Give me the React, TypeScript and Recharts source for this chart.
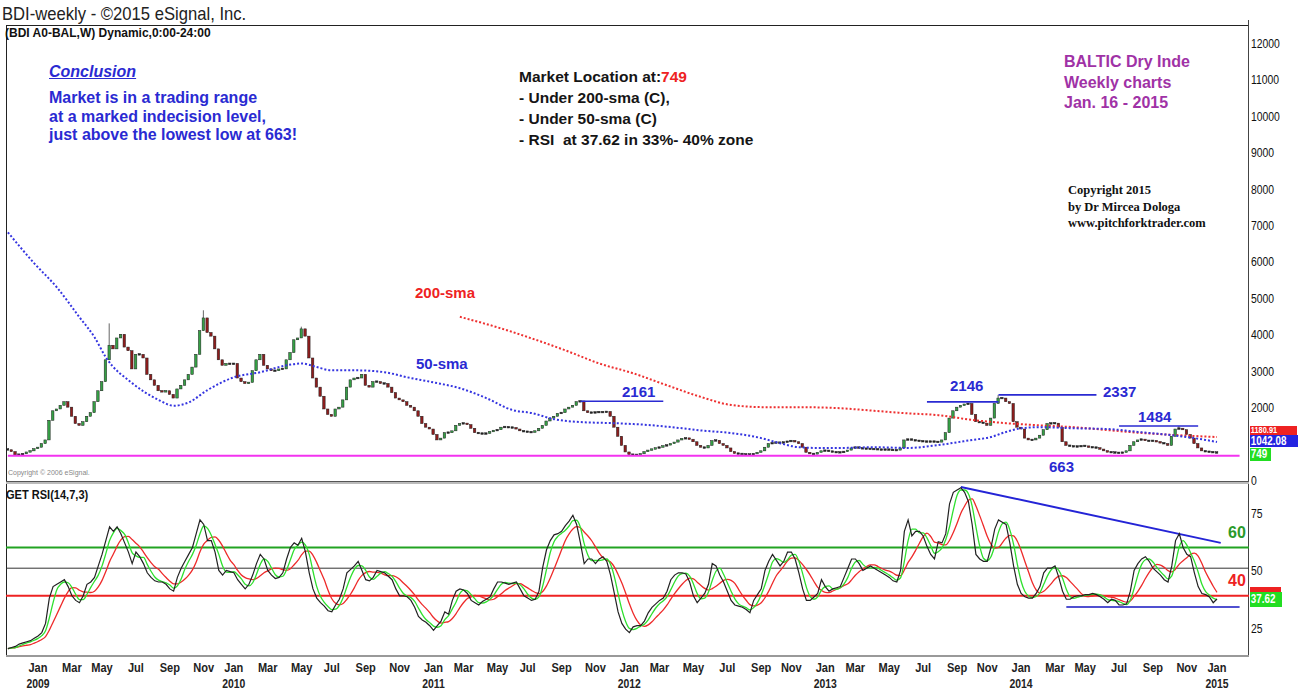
import React from "react";
import { Bar, ComposedChart, Line, ReferenceLine, XAxis, YAxis } from "recharts";

// weekly bars, first one is Fri 21 Nov 2008, last one Fri 16 Jan 2015
const START = Date.UTC(2008, 10, 21);
const SLOTS = 330; // weekly slots on the time axis incl. the blank space on the right

const firstOpen = 850;

// weekly closes (BDI)
const closes = [
  830, 780, 690, 700, 720, 770, 800, 860, 900, 1000,
  1100, 1640, 1900, 1950, 2050, 2150, 2000, 1750, 1550, 1500,
  1600, 1750, 1850, 2150, 2450, 2700, 3300, 3700, 3600, 3900,
  4000, 3650, 3550, 3050, 3450, 3450, 3350, 2900, 2750, 2600,
  2450, 2420, 2450, 2350, 2250, 2500, 2600, 2750, 2900, 3100,
  3450, 4100, 4450, 4050, 3950, 3600, 3300, 3150, 3200, 3180,
  3200, 2800, 2700, 2650, 2680, 3000, 3300, 3450, 3150, 3050,
  3000, 3000, 3050, 3050, 3300, 3500, 3850, 3900, 4150, 3950,
  3350, 2800, 2550, 2300, 1950, 1800, 1750, 1950, 2000, 2200,
  2550, 2750, 2800, 2800, 2900, 2600, 2550, 2700, 2700, 2650,
  2650, 2550, 2400, 2250, 2200, 2150, 2050, 2000, 1900, 1750,
  1550, 1450, 1400, 1250, 1100, 1150, 1300, 1300, 1350, 1500,
  1550, 1560, 1520, 1420, 1300, 1280, 1270, 1280, 1330, 1360,
  1380, 1450, 1460, 1440, 1440, 1400, 1350, 1330, 1320, 1310,
  1350, 1420, 1500, 1620, 1700, 1750, 1830, 1850, 1950, 2000,
  2050, 2150, 2170, 1900, 1850, 1850, 1860, 1870, 1860, 1880,
  1750, 1450, 1200, 950, 770, 700, 690, 690, 720, 780,
  820, 850, 880, 900, 940, 960, 1000, 1040, 1100, 1140,
  1150, 1120, 1050, 950, 900, 880, 950, 1080, 1090, 1000,
  950, 880, 780, 730, 720, 710, 700, 700, 720, 760,
  800, 900, 1000, 1020, 1030, 1020, 1040, 1060, 1080, 1050,
  1000, 900, 760, 720, 710, 760, 800, 810, 790, 770,
  760, 760, 780, 820, 880, 900, 880, 860, 860, 850,
  850, 840, 830, 840, 830, 820, 820, 880, 1100, 1120,
  1100, 1080, 1070, 1060, 1050, 1060, 1050, 1040, 1100, 1300,
  1700, 1900, 2000, 2050, 2080, 2100, 1800, 1600, 1580, 1560,
  1500, 1700, 2100, 2250, 2250, 2150, 2100, 1600, 1450, 1400,
  1150, 1100, 1100, 1150, 1230, 1380, 1550, 1560, 1560, 1450,
  1050, 950, 930, 920, 920, 940, 930, 900, 900, 880,
  850, 800, 770, 760, 750, 740, 760, 800, 950, 1050,
  1100, 1120, 1080, 1070, 1080, 1050, 1020, 1000, 950, 1200,
  1400, 1420, 1380, 1250, 1150, 1000, 880, 800, 780, 770,
  760, 749,
];

// visible wicks beyond the bodies: [week, price]
const wickHighs: [number, number][] = [[27, 4300], [52, 4660], [78, 4210], [263, 2337], [311, 1484]];
const wickLows: [number, number][] = [[2, 663]];

// moving averages as drawn on the chart: [week, value]
const sma50Pts: [number, number][] = [
  [0, 6800], [7, 5950], [13, 5290], [19, 4470], [23, 3920], [26, 3370], [33, 2660],
  [40, 2200], [44, 2040], [48, 2130], [53, 2470], [60, 2820], [67, 2960], [74, 3150],
  [78, 3200], [82, 3100], [86, 3010], [93, 3010], [100, 2960], [106, 2820], [113, 2680],
  [120, 2520], [127, 2250], [134, 1920], [139, 1840], [145, 1670], [152, 1590], [161, 1560],
  [170, 1510], [179, 1420], [184, 1360], [192, 1290], [200, 1150], [205, 1010], [210, 900],
  [215, 880], [221, 880], [230, 900], [239, 880], [247, 960], [256, 1100], [261, 1180],
  [265, 1320], [269, 1420], [274, 1450], [283, 1420], [292, 1400], [300, 1320], [309, 1230],
  [318, 1100], [321, 1042],
];
const sma200Pts: [number, number][] = [
  [120, 4480], [131, 4160], [139, 3890], [148, 3560], [157, 3200], [166, 2930], [175, 2600],
  [184, 2280], [192, 2060], [201, 2000], [210, 2000], [221, 1970], [230, 1900], [239, 1830],
  [247, 1780], [256, 1650], [265, 1560], [274, 1500], [283, 1450], [292, 1370], [300, 1300],
  [309, 1240], [321, 1180],
];

// RSI(14), weekly
const rsi = [
  16, 16.5, 17, 18, 18.5, 19, 19.5, 20.5, 21.5, 23,
  27, 38, 43, 44, 45, 46, 43, 39, 37, 36,
  39, 44, 45, 47, 52, 57, 63, 69, 67, 69,
  66, 62, 58, 53, 58, 56, 53, 49, 47, 45.5,
  45, 45, 44, 42, 41, 47, 51, 54, 57, 60,
  66, 72, 70, 63, 63, 58, 50, 48, 50, 49.5,
  49, 46, 44, 42, 44, 48, 53, 57, 55, 50,
  48, 46.5, 47, 49, 55, 60, 62, 61, 64, 58,
  49, 42, 38, 36, 34.5, 32.5, 32, 35, 37.5, 42,
  49, 50.5, 52, 54, 50, 46, 45.5, 47, 50, 49.5,
  49, 47.5, 46, 42, 39, 39, 38.6, 37, 34, 30,
  28.5, 27.5, 26, 24, 26, 28, 32, 31, 37, 41,
  42, 41.5, 40, 37, 36, 35, 36.5, 37.5, 38.5, 42,
  45, 45, 44.5, 44, 44.5, 45, 42, 39, 38, 37,
  37.5, 41, 51.5, 59, 63, 65.5, 66, 67, 69.5, 71.5,
  74, 70, 62, 53, 55, 55, 53, 55, 56, 54,
  48, 40, 32, 27, 24.5, 23, 25.5, 26, 26, 28,
  31.6, 34, 35.5, 37, 38, 41, 46, 48, 49, 49,
  48.5, 45, 39, 36, 38, 40, 44, 53, 52, 48,
  45, 41, 37, 35, 34.5, 34, 33, 31.6, 37, 39.5,
  42, 50, 54, 57, 54.5, 52, 54, 58, 58, 55,
  49, 42, 37, 37, 38.5, 40, 46, 43, 41, 42,
  42.5, 43, 47, 51, 55, 55, 53, 50, 51, 52,
  51, 50, 49, 48, 47, 45.5, 45, 50, 67, 72,
  65, 67, 67, 65, 60.5, 57, 55, 62.5, 62, 66,
  79, 84, 85, 86, 84, 80, 70, 57, 55, 54,
  54, 60, 68, 72, 71, 70, 62, 52, 44, 40,
  38.6, 38, 38, 40, 43, 49, 51, 51, 52, 47,
  41, 37.5, 37.5, 38.6, 39, 39, 39.5, 39.5, 40, 39.5,
  38.6, 37.5, 36, 37.5, 37, 35, 35, 35.5, 41, 50,
  53, 55, 56, 54, 51, 49.5, 48, 46, 45, 52,
  63, 66, 60, 57, 56, 49, 43, 40, 39.5, 38.5,
  36, 37.62,
];

// 1000 sits under the value boxes on the original, so it is not labelled
const priceTicks = [0, 2000, 3000, 4000, 5000, 6000, 7000, 8000, 9000, 10000, 11000, 12000];
const rsiTicks = [25, 50, 75];
const monthNames = ["Jan", "Feb", "Mar", "Apr", "May", "Jun", "Jul", "Aug", "Sep", "Oct", "Nov", "Dec"];

const ARIAL = "'Liberation Sans', Arial, sans-serif";
const SERIF = "'Liberation Serif', 'Times New Roman', serif";

const avgBack = (arr: number[], n: number, i: number) => {
  const from = Math.max(0, i - n + 1);
  let s = 0;
  for (let k = from; k <= i; k++) s += arr[k];
  return s / (i - from + 1);
};

const highs = new Map(wickHighs);
const lows = new Map(wickLows);

const rows: any[] = Array.from({ length: SLOTS }, (_, i) => {
  const date = new Date(START + i * 7 * 864e5);
  const row: any = { i, date };
  if (i < closes.length) {
    const open = i === 0 ? firstOpen : closes[i - 1];
    const close = closes[i];
    let hi = Math.max(open, close, highs.get(i) ?? 0);
    const lo = Math.min(open, close, lows.get(i) ?? Infinity);
    if (hi - lo < 1) hi = lo + 1;
    row.open = open;
    row.close = close;
    row.range = [lo, hi];
    row.rsi = rsi[i];
    row.rsiFast = avgBack(rsi, 3, i);
    row.rsiSlow = avgBack(rsi, 7, i);
  }
  return row;
});
sma50Pts.forEach(([i, v]) => (rows[i].sma50 = v));
sma200Pts.forEach(([i, v]) => (rows[i].sma200 = v));

const monthTicks = rows
  .filter((r, i) => i > 0 && i < closes.length && r.date.getUTCMonth() !== rows[i - 1].date.getUTCMonth() && r.date.getUTCMonth() % 2 === 0)
  .map((r) => r.i);

const Candle = (props: any) => {
  const { x, y, width, height, payload } = props;
  if (!payload || !payload.range) return null;
  const [lo, hi] = payload.range;
  const { open, close } = payload;
  const k = height / (hi - lo);
  const cx = x + width / 2;
  const top = y + (hi - Math.max(open, close)) * k;
  const bot = y + (hi - Math.min(open, close)) * k;
  const h = Math.max(bot - top, 1.6);
  const mid = (top + bot) / 2;
  const flat = Math.abs(close - open) < 25;
  const fill = flat ? "#222" : close > open ? "#35a045" : "#8e1c1c";
  return (
    <g>
      <line x1={cx} x2={cx} y1={y} y2={y + height} stroke="#666" strokeWidth={1} />
      <rect x={cx - 1.25} y={mid - h / 2} width={2.5} height={h} fill={fill} stroke="#222" strokeWidth={0.5} />
    </g>
  );
};

const PriceTick = (p: any) => (
  <text
    transform={`translate(1251 ${p.y + 5}) scale(0.8 1)`}
    fontFamily={ARIAL} fontSize={13} fill="#111"
  >
    {p.payload.value}
  </text>
);

const MonthTick = (p: any) => {
  const d: Date = rows[p.payload.value].date;
  const m = d.getUTCMonth();
  const cx = p.x + 7.5;
  return (
    <g fontFamily={ARIAL} fontSize={13} fontWeight="bold" fill="#222" textAnchor="middle">
      <text transform={`translate(${cx} 188) scale(0.85 1)`}>{monthNames[m]}</text>
      {m === 0 && <text transform={`translate(${cx} 204) scale(0.8 1)`}>{d.getUTCFullYear()}</text>}
    </g>
  );
};

const T = ({ x, y, s, sx, children }: { x: number; y: number; s: React.CSSProperties; sx?: number; children: React.ReactNode }) => (
  <div
    style={{
      position: "absolute", left: x, top: y, whiteSpace: "nowrap", lineHeight: 1,
      transform: sx ? `scaleX(${sx})` : undefined, transformOrigin: "left center", ...s,
    }}
  >
    {children}
  </div>
);

const blueBold: React.CSSProperties = { fontFamily: ARIAL, fontWeight: "bold", fontSize: 15, color: "#2a2ad2" };
const blackBold: React.CSSProperties = { fontFamily: ARIAL, fontWeight: "bold", fontSize: 15.5, color: "#151515" };
const purple: React.CSSProperties = { fontFamily: ARIAL, fontWeight: "bold", fontSize: 16, color: "#a032a6" };
const serif: React.CSSProperties = { fontFamily: SERIF, fontWeight: "bold", fontSize: 12.5, color: "#111" };

const Box = ({ x, y, w, h, bg, text, fs = 12 }: { x: number; y: number; w: number; h: number; bg: string; text?: string; fs?: number }) => (
  <div
    style={{
      position: "absolute", left: x, top: y, width: w, height: h, background: bg, color: "#fff",
      fontFamily: ARIAL, fontWeight: "bold", fontSize: fs, lineHeight: `${h}px`, overflow: "hidden",
    }}
  >
    {text && <span style={{ display: "inline-block", transform: "scaleX(0.82)", transformOrigin: "left center", paddingLeft: 1 }}>{text}</span>}
  </div>
);

export default function App() {
  return (
    <div style={{ position: "absolute", left: 0, top: 0, width: 1299, height: 690, background: "#fff", overflow: "hidden" }}>
      {/* frame */}
      <div style={{ position: "absolute", left: 6, top: 25, width: 1243, height: 1, background: "#222" }} />
      <div style={{ position: "absolute", left: 6, top: 25, width: 1, height: 632, background: "#222" }} />
      <div style={{ position: "absolute", left: 1248, top: 20, width: 1, height: 637, background: "#444" }} />
      <div style={{ position: "absolute", left: 6, top: 481, width: 1243, height: 1, background: "#555" }} />
      <div style={{ position: "absolute", left: 6, top: 482, width: 1243, height: 2, background: "#bbb" }} />
      <div style={{ position: "absolute", left: 6, top: 655, width: 1243, height: 2, background: "#999" }} />

      <div style={{ position: "absolute", left: 0, top: 25 }}>
        <ComposedChart width={1299} height={467} data={rows} margin={{ top: 0, right: 0, bottom: 10, left: 6 }} barCategoryGap={0}>
          <XAxis dataKey="i" type="category" scale="band" hide />
          <YAxis
            orientation="right" type="number" width={50} domain={[-55, 12493]} ticks={priceTicks} interval={0}
            allowDataOverflow tick={<PriceTick />} tickLine={false} axisLine={false}
          />
          <ReferenceLine segment={[{ x: 0, y: 663 }, { x: 327, y: 663 }]} stroke="#f333f0" strokeWidth={2} ifOverflow="visible" />
          <ReferenceLine segment={[{ x: 152, y: 2161 }, { x: 174, y: 2161 }]} stroke="#2a2ad2" strokeWidth={1.6} />
          <ReferenceLine segment={[{ x: 244, y: 2146 }, { x: 263, y: 2146 }]} stroke="#2a2ad2" strokeWidth={1.6} />
          <ReferenceLine segment={[{ x: 263, y: 2337 }, { x: 289, y: 2337 }]} stroke="#2a2ad2" strokeWidth={1.6} />
          <ReferenceLine segment={[{ x: 295, y: 1484 }, { x: 316, y: 1484 }]} stroke="#2a2ad2" strokeWidth={1.6} />
          <Bar dataKey="range" barSize={3} shape={<Candle />} isAnimationActive={false} />
          <Line
            dataKey="sma200" type="monotone" stroke="#ee3030" strokeWidth={2} strokeDasharray="2 2" dot={false}
            connectNulls isAnimationActive={false}
          />
          <Line
            dataKey="sma50" type="monotone" stroke="#3535e0" strokeWidth={2} strokeDasharray="2 2" dot={false}
            connectNulls isAnimationActive={false}
          />
        </ComposedChart>
      </div>

      <div style={{ position: "absolute", left: 0, top: 484 }}>
        <ComposedChart width={1299} height={206} data={rows} margin={{ top: 0, right: 0, bottom: 0, left: 6 }}>
          <XAxis
            dataKey="i" type="category" scale="band" ticks={monthTicks} interval={0} tick={<MonthTick />}
            tickLine={false} axisLine={false} height={35}
          />
          <YAxis
            orientation="right" type="number" width={50} domain={[13.26, 87.6]} ticks={rsiTicks} interval={0}
            allowDataOverflow tick={<PriceTick />} tickLine={false} axisLine={false}
          />
          <ReferenceLine y={60} stroke="#22a322" strokeWidth={2} />
          <ReferenceLine y={51} stroke="#333" strokeWidth={1} />
          <ReferenceLine y={39} stroke="#ee2222" strokeWidth={2} />
          <ReferenceLine segment={[{ x: 253, y: 86.3 }, { x: 322, y: 62 }]} stroke="#2424d6" strokeWidth={2} ifOverflow="visible" />
          <ReferenceLine segment={[{ x: 281, y: 34.1 }, { x: 327, y: 34.1 }]} stroke="#5050d0" strokeWidth={2} ifOverflow="visible" />
          <Line dataKey="rsiSlow" type="monotone" stroke="#ee2a2a" strokeWidth={1.3} dot={false} isAnimationActive={false} />
          <Line dataKey="rsiFast" type="monotone" stroke="#2ee02e" strokeWidth={1.3} dot={false} isAnimationActive={false} />
          <Line dataKey="rsi" type="linear" stroke="#222" strokeWidth={1.2} dot={false} isAnimationActive={false} />
        </ComposedChart>
      </div>

      {/* right-hand value boxes */}
      <Box x={1250} y={426} w={47} h={9} bg="#ee2222" text="1180.91" fs={9} />
      <Box x={1250} y={435} w={48} h={12} bg="#2424e0" text="1042.08" />
      <Box x={1250} y={448} w={21} h={13} bg="#22dd22" text="749" />
      <Box x={1250} y={587} w={31} h={5} bg="#ee2222" />
      <Box x={1250} y={592} w={32} h={15} bg="#22dd22" text="37.62" />

      {/* headers */}
      <T x={2} y={4} sx={0.875} s={{ fontFamily: ARIAL, fontSize: 19, color: "#222" }}>BDI-weekly - ©2015 eSignal, Inc.</T>
      <T x={5} y={27} s={{ fontFamily: ARIAL, fontWeight: "bold", fontSize: 12, color: "#111" }}>(BDI A0-BAL,W) Dynamic,0:00-24:00</T>
      <T x={8} y={469} s={{ fontFamily: ARIAL, fontSize: 7, color: "#888" }}>Copyright © 2006 eSignal.</T>
      <T x={6} y={489} sx={0.92} s={{ fontFamily: ARIAL, fontWeight: "bold", fontSize: 12, color: "#111" }}>GET RSI(14,7,3)</T>

      {/* notes */}
      <T x={49} y={64} s={{ ...blueBold, fontSize: 16, fontStyle: "italic", textDecoration: "underline" }}>Conclusion</T>
      <T x={49} y={90} s={{ ...blueBold, fontSize: 16 }}>Market is in a trading range</T>
      <T x={49} y={109} s={{ ...blueBold, fontSize: 16 }}>at a marked indecision level,</T>
      <T x={49} y={127} s={{ ...blueBold, fontSize: 16 }}>just above the lowest low at 663!</T>

      <T x={519} y={69} s={blackBold}>
        Market Location at:<span style={{ color: "#ee2222" }}>749</span>
      </T>
      <T x={519} y={90} s={blackBold}>- Under 200-sma (C),</T>
      <T x={519} y={111} s={blackBold}>- Under 50-sma (C)</T>
      <T x={519} y={132} s={blackBold}>- RSI&nbsp; at 37.62 in 33%- 40% zone</T>

      <T x={1064} y={54} s={purple}>BALTIC Dry Inde</T>
      <T x={1064} y={75} s={purple}>Weekly charts</T>
      <T x={1064} y={95} s={purple}>Jan. 16 - 2015</T>

      <T x={1068} y={184} s={serif}>Copyright 2015</T>
      <T x={1068} y={201} s={serif}>by Dr Mircea Dologa</T>
      <T x={1068} y={217} s={serif}>www.pitchforktrader.com</T>

      <T x={415} y={285} s={{ ...blueBold, color: "#ee2222" }}>200-sma</T>
      <T x={416} y={356} s={blueBold}>50-sma</T>
      <T x={622} y={384} s={blueBold}>2161</T>
      <T x={950} y={378} s={blueBold}>2146</T>
      <T x={1103} y={384} s={blueBold}>2337</T>
      <T x={1138} y={409} s={blueBold}>1484</T>
      <T x={1049} y={459} s={blueBold}>663</T>

      <T x={1228} y={525} s={{ fontFamily: ARIAL, fontWeight: "bold", fontSize: 16, color: "#2a9a2a" }}>60</T>
      <T x={1228} y={573} s={{ fontFamily: ARIAL, fontWeight: "bold", fontSize: 16, color: "#ee2222" }}>40</T>
    </div>
  );
}
